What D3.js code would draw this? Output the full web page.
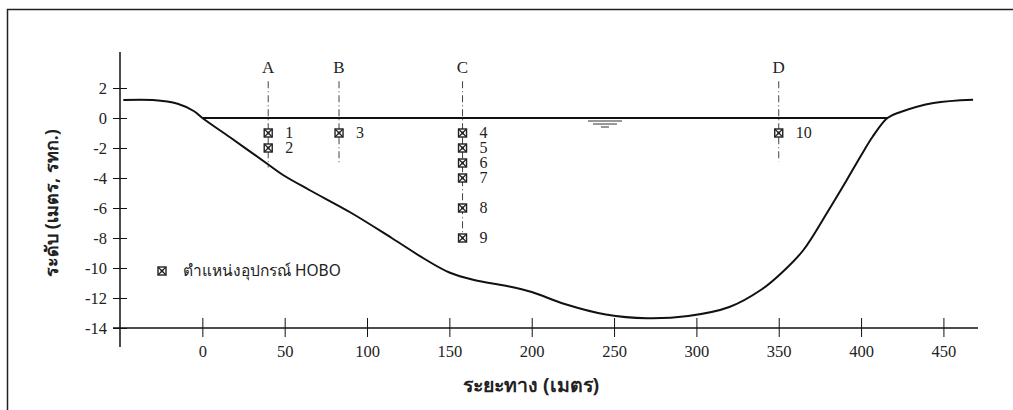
<!DOCTYPE html>
<html>
<head>
<meta charset="utf-8">
<script src="https://cdn.jsdelivr.net/npm/d3@7"></script>
<style>
  body { margin: 0; background: #fff; }
  .tick text { font-family: "Liberation Serif", "Times New Roman", serif; font-size: 16.5px; fill: #222; }
  .th { font-family: "Noto Sans", "DejaVu Sans", sans-serif; }
</style>
</head>
<body>
<svg id="chart" width="1013" height="410"></svg>
<script>
// river bed profile (distance m, level m)
var bedX = [-48, -30, -15, -5, 0, 17, 40, 49, 65, 90, 115, 135, 150, 165, 185, 200, 220, 245, 270, 295, 320, 340, 352, 365, 380, 391.5, 400, 407, 416, 424, 444, 468];
var bedY = [1.2, 1.2, 0.95, 0.45, 0, -1.3, -3.1, -3.8, -4.8, -6.3, -8.0, -9.4, -10.3, -10.8, -11.2, -11.6, -12.4, -13.1, -13.35, -13.2, -12.6, -11.4, -10.3, -8.8, -6.2, -4.1, -2.5, -1.25, 0, 0.4, 1.0, 1.22];

// verticals
var stations = ['A', 'B', 'C', 'D'];
var stationX = [40, 83, 158, 350];
var stationBottom = [-3.3, -3.1, -8.4, -2.9];

// HOBO instruments
var hoboId = [1, 2, 3, 4, 5, 6, 7, 8, 9, 10];
var hoboX = [40, 40, 83, 158, 158, 158, 158, 158, 158, 350];
var hoboY = [-1, -2, -1, -1, -2, -3, -4, -6, -8, -1];

var xTicks = [0, 50, 100, 150, 200, 250, 300, 350, 400, 450];
var yTicks = [2, 0, -2, -4, -6, -8, -10, -12, -14];

var svg = d3.select('#chart');

// frame
svg.append('path')
   .attr('d', 'M7.5,410 V9.5 H1013')
   .attr('fill', 'none')
   .attr('stroke', '#222')
   .attr('stroke-width', 1.5);

var x = d3.scaleLinear().domain([-50, 471]).range([120, 978]);
var y = d3.scaleLinear().domain([-14, 2]).range([328, 88]);

// x axis
var xAxis = svg.append('g')
   .attr('transform', 'translate(0,' + y(-14) + ')');
xAxis.append('line')
   .attr('x1', 113).attr('x2', 978)
   .attr('stroke', '#111').attr('stroke-width', 1.5);
xAxis.call(d3.axisBottom(x).tickValues(xTicks).tickSize(0).tickPadding(17))
   .call(function(g){ g.select('.domain').remove(); });
xAxis.selectAll('.tick').append('line')
   .attr('y1', -10).attr('y2', 9)
   .attr('stroke', '#111');

// y axis
var yAxis = svg.append('g')
   .attr('transform', 'translate(' + x(-50) + ',0)');
yAxis.append('line')
   .attr('y1', 52).attr('y2', 347)
   .attr('stroke', '#111').attr('stroke-width', 1.5);
yAxis.call(d3.axisLeft(y).tickValues(yTicks).tickSize(0).tickPadding(13)
      .tickFormat(function(d){ return d < 0 ? '-' + Math.abs(d) : d; }))
   .call(function(g){ g.select('.domain').remove(); });
yAxis.selectAll('.tick').append('line')
   .attr('x1', -7).attr('x2', 7)
   .attr('stroke', '#111');

// axis titles
svg.append('text')
   .attr('class', 'th')
   .attr('x', 531).attr('y', 392)
   .attr('text-anchor', 'middle')
   .style('font-size', '19.5px').style('font-weight', 'bold')
   .attr('fill', '#222')
   .text('ระยะทาง (เมตร)');

svg.append('text')
   .attr('class', 'th')
   .attr('transform', 'translate(58,203) rotate(-90)')
   .attr('text-anchor', 'middle')
   .style('font-size', '18px').style('font-weight', 'bold')
   .attr('fill', '#222')
   .text('ระดับ (เมตร, รทก.)');

// water surface
svg.append('line')
   .attr('x1', x(0)).attr('x2', x(416))
   .attr('y1', y(0)).attr('y2', y(0))
   .attr('stroke', '#111').attr('stroke-width', 2);

var wx = x(244.5), wy = y(0);
[[17, 3], [12, 6], [4, 9]].forEach(function(s){
  svg.append('line')
     .attr('x1', wx - s[0]).attr('x2', wx + s[0])
     .attr('y1', wy + s[1]).attr('y2', wy + s[1])
     .attr('stroke', '#333').attr('stroke-width', 1);
});

// bed
var line = d3.line()
   .x(function(d){ return x(d[0]); })
   .y(function(d){ return y(d[1]); })
   .curve(d3.curveCatmullRom.alpha(0.5));

svg.append('path')
   .datum(bedX.map(function(v, i){ return [v, bedY[i]]; }))
   .attr('d', line)
   .attr('fill', 'none')
   .attr('stroke', '#111')
   .attr('stroke-width', 2);

// verticals
stations.forEach(function(s, i){
  svg.append('line')
     .attr('x1', x(stationX[i])).attr('x2', x(stationX[i]))
     .attr('y1', y(2.45)).attr('y2', y(stationBottom[i]))
     .attr('stroke', '#444').attr('stroke-width', 1)
     .attr('stroke-dasharray', '7,3,1,3');
  svg.append('text')
     .attr('x', x(stationX[i])).attr('y', 73)
     .attr('text-anchor', 'middle')
     .style('font-family', '"Liberation Serif", serif')
     .style('font-size', '17px')
     .attr('fill', '#222')
     .text(s);
});

// markers
function marker(g, cx, cy){
  var h = 4;
  g.append('rect')
   .attr('x', cx - h).attr('y', cy - h)
   .attr('width', 2 * h).attr('height', 2 * h)
   .attr('fill', '#fff').attr('stroke', '#222').attr('stroke-width', 1.4);
  g.append('path')
   .attr('d', 'M' + (cx - h) + ',' + (cy - h) + 'L' + (cx + h) + ',' + (cy + h) +
              'M' + (cx + h) + ',' + (cy - h) + 'L' + (cx - h) + ',' + (cy + h))
   .attr('stroke', '#222').attr('stroke-width', 1.1);
  g.append('circle')
   .attr('cx', cx).attr('cy', cy).attr('r', 1.4).attr('fill', '#222');
}

hoboId.forEach(function(id, i){
  marker(svg, x(hoboX[i]), y(hoboY[i]));
  svg.append('text')
     .attr('x', x(hoboX[i]) + 17).attr('y', y(hoboY[i]) + 5)
     .style('font-family', '"Liberation Serif", serif')
     .style('font-size', '16px')
     .attr('fill', '#222')
     .text(id);
});

// legend
marker(svg, 162, 271);
svg.append('text')
   .attr('class', 'th')
   .attr('x', 183).attr('y', 276)
   .style('font-size', '15.5px')
   .attr('fill', '#222')
   .text('ตำแหน่งอุปกรณ์ HOBO');
</script>
</body>
</html>
